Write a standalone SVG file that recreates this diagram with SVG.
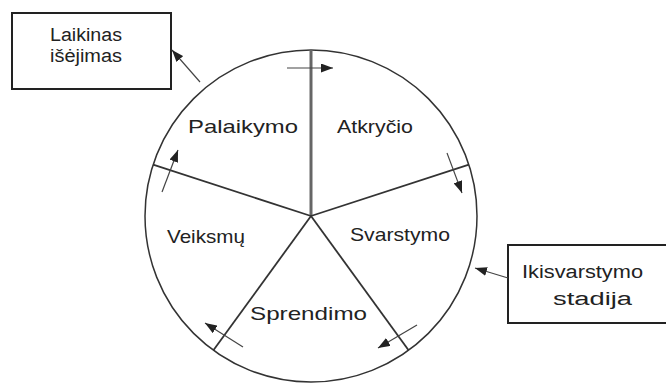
<svg xmlns="http://www.w3.org/2000/svg" width="666" height="385" viewBox="0 0 666 385">
<defs>
<marker id="ah" viewBox="0 0 12 9" refX="12" refY="4.5" markerWidth="12" markerHeight="9" markerUnits="userSpaceOnUse" orient="auto">
<path d="M0,0 L12,4.5 L0,9 Z" fill="#222"/>
</marker>
<style>
.lbl{font-family:"Liberation Sans","DejaVu Sans",sans-serif;font-size:19px;fill:#222}
.box{fill:#fff;stroke:#222;stroke-width:2}
.spoke{stroke:#333;stroke-width:1.8;fill:none}
.arr{stroke:#444;stroke-width:1.2;fill:none;marker-end:url(#ah)}
</style>
</defs>
<rect width="666" height="385" fill="#fff"/>
<g id="wheel">
<circle cx="311" cy="216" r="166" fill="none" stroke="#333" stroke-width="1.5"/>
</g>
<g id="spokes">
<line class="spoke" x1="311" y1="216" x2="311" y2="50" style="stroke:#666;stroke-width:3"/>
<line class="spoke" x1="311" y1="216" x2="468.9" y2="164.7"/>
<line class="spoke" x1="311" y1="216" x2="408.6" y2="350.3"/>
<line class="spoke" x1="311" y1="216" x2="213.4" y2="350.3"/>
<line class="spoke" x1="311" y1="216" x2="153.1" y2="164.7"/>
</g>
<g id="node-palaikymo"><text class="lbl" x="188" y="133" textLength="110" lengthAdjust="spacingAndGlyphs">Palaikymo</text></g>
<g id="node-atkrycio"><text class="lbl" x="337" y="133" textLength="76" lengthAdjust="spacingAndGlyphs">Atkryčio</text></g>
<g id="node-veiksmu"><text class="lbl" x="167" y="243" textLength="78" lengthAdjust="spacingAndGlyphs">Veiksmų</text></g>
<g id="node-svarstymo"><text class="lbl" x="350" y="241" textLength="100" lengthAdjust="spacingAndGlyphs">Svarstymo</text></g>
<g id="node-sprendimo"><text class="lbl" x="250" y="320" textLength="117" lengthAdjust="spacingAndGlyphs">Sprendimo</text></g>
<g id="node-laikinas">
<rect class="box" x="12" y="13" width="159" height="76"/>
<text class="lbl" x="50" y="41" style="font-size:18px" textLength="72" lengthAdjust="spacingAndGlyphs">Laikinas</text>
<text class="lbl" x="50" y="62" style="font-size:18px" textLength="72" lengthAdjust="spacingAndGlyphs">išėjimas</text>
</g>
<g id="node-ikisvarstymo">
<rect class="box" x="508" y="245" width="165" height="78"/>
<text class="lbl" x="522" y="278" style="font-size:18px" textLength="121" lengthAdjust="spacingAndGlyphs">Ikisvarstymo</text>
<text class="lbl" x="553" y="305" style="font-size:18px" textLength="79" lengthAdjust="spacingAndGlyphs">stadija</text>
</g>
<g id="connectors">
<line class="arr" x1="287" y1="68" x2="333" y2="68"/>
<line class="arr" x1="447" y1="153" x2="462" y2="193"/>
<line class="arr" x1="417" y1="325" x2="378" y2="348"/>
<line class="arr" x1="243" y1="347" x2="205" y2="323"/>
<line class="arr" x1="162" y1="192" x2="178" y2="150"/>
<line class="arr" x1="200" y1="82" x2="172" y2="50"/>
<line class="arr" x1="508" y1="278" x2="475" y2="268"/>
</g>
</svg>
